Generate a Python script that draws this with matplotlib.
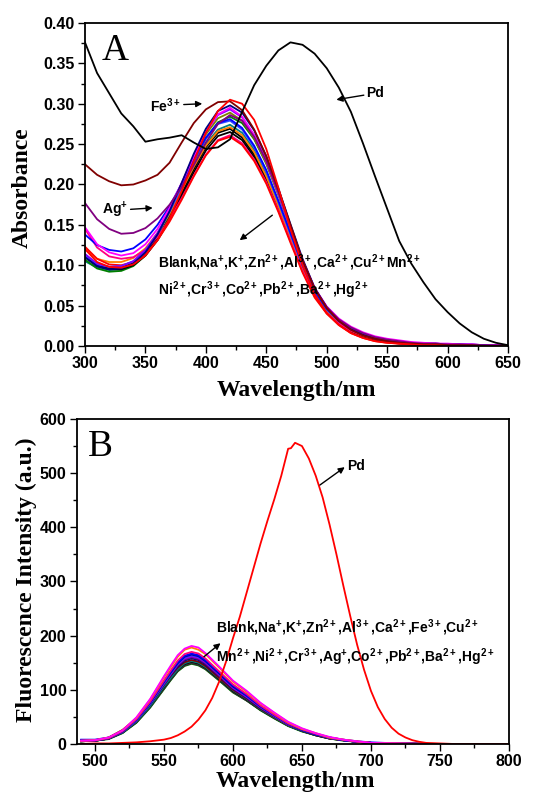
import matplotlib
matplotlib.use('Agg')
import matplotlib.pyplot as plt
from matplotlib.ticker import MultipleLocator, FormatStrFormatter

plt.rcParams['mathtext.fontset'] = 'custom'
plt.rcParams['mathtext.rm'] = 'Liberation Sans:bold'
plt.rcParams['mathtext.it'] = 'Liberation Sans:bold'
plt.rcParams['mathtext.bf'] = 'Liberation Sans:bold'

# ---------------- (A) absorption spectra ----------------
wl_abs = [300, 310, 320, 330, 340, 350, 360, 370, 380, 390, 400, 410, 420, 430, 440, 450, 460, 470,
          480, 490, 500, 510, 520, 530, 540, 550, 560, 570, 580, 590, 600, 610, 620, 630, 640, 650]

abs_pd = [0.376, 0.338, 0.313, 0.288, 0.272, 0.253, 0.256, 0.258, 0.261, 0.252, 0.244, 0.246, 0.256, 0.290,
          0.323, 0.347, 0.366, 0.376, 0.373, 0.362, 0.344, 0.320, 0.290, 0.251, 0.210, 0.170, 0.130, 0.102,
          0.079, 0.058, 0.042, 0.028, 0.017, 0.009, 0.004, 0.001]
abs_fe = [0.225, 0.212, 0.204, 0.199, 0.200, 0.205, 0.212, 0.227, 0.252, 0.276, 0.293, 0.302, 0.303, 0.292,
          0.268, 0.235, 0.194, 0.150, 0.106, 0.071, 0.047, 0.031, 0.020, 0.013, 0.009, 0.006, 0.004, 0.003,
          0.002, 0.002, 0.001, 0.001, 0.001, 0.000, 0.000, 0.000]
abs_ag = [0.177, 0.157, 0.145, 0.139, 0.140, 0.146, 0.158, 0.175, 0.197, 0.224, 0.252, 0.275, 0.286, 0.279,
          0.259, 0.229, 0.190, 0.148, 0.106, 0.071, 0.048, 0.033, 0.023, 0.016, 0.011, 0.008, 0.006, 0.004,
          0.003, 0.003, 0.002, 0.002, 0.001, 0.001, 0.001, 0.001]
abs_blank = [0.113, 0.101, 0.097, 0.097, 0.102, 0.114, 0.133, 0.158, 0.188, 0.219, 0.246, 0.264, 0.269, 0.258,
             0.237, 0.208, 0.171, 0.132, 0.094, 0.063, 0.042, 0.028, 0.018, 0.012, 0.008, 0.005, 0.004, 0.003,
             0.002, 0.002, 0.001, 0.001, 0.001, 0.000, 0.000, 0.000]
abs_na = [0.123, 0.108, 0.101, 0.100, 0.104, 0.114, 0.131, 0.154, 0.181, 0.210, 0.236, 0.254, 0.259, 0.249,
          0.229, 0.201, 0.166, 0.128, 0.091, 0.060, 0.040, 0.026, 0.016, 0.010, 0.006, 0.004, 0.003, 0.002,
          0.001, 0.001, 0.001, 0.000, 0.000, 0.000, 0.000, 0.000]
abs_k = [0.138, 0.125, 0.119, 0.117, 0.121, 0.132, 0.150, 0.173, 0.201, 0.231, 0.258, 0.276, 0.281, 0.270,
         0.248, 0.218, 0.180, 0.140, 0.100, 0.068, 0.046, 0.031, 0.021, 0.014, 0.010, 0.007, 0.005, 0.004,
         0.003, 0.003, 0.002, 0.002, 0.002, 0.001, 0.001, 0.001]
abs_zn = [0.147, 0.126, 0.116, 0.112, 0.115, 0.126, 0.145, 0.171, 0.202, 0.235, 0.265, 0.287, 0.295, 0.284,
          0.261, 0.229, 0.189, 0.147, 0.106, 0.072, 0.049, 0.034, 0.024, 0.017, 0.012, 0.009, 0.007, 0.005,
          0.004, 0.003, 0.003, 0.002, 0.002, 0.001, 0.001, 0.001]
abs_al = [0.112, 0.100, 0.096, 0.097, 0.103, 0.117, 0.138, 0.166, 0.199, 0.233, 0.262, 0.282, 0.289, 0.279,
          0.257, 0.226, 0.187, 0.145, 0.103, 0.069, 0.046, 0.030, 0.020, 0.013, 0.009, 0.006, 0.004, 0.003,
          0.002, 0.002, 0.001, 0.001, 0.001, 0.000, 0.000, 0.000]
abs_ca = [0.110, 0.099, 0.095, 0.096, 0.102, 0.116, 0.138, 0.167, 0.202, 0.238, 0.269, 0.291, 0.298, 0.289,
          0.267, 0.235, 0.195, 0.151, 0.108, 0.072, 0.048, 0.032, 0.021, 0.014, 0.009, 0.006, 0.004, 0.003,
          0.002, 0.002, 0.001, 0.001, 0.001, 0.001, 0.000, 0.000]
abs_cu = [0.114, 0.102, 0.098, 0.099, 0.105, 0.119, 0.140, 0.168, 0.201, 0.235, 0.265, 0.286, 0.293, 0.283,
          0.261, 0.230, 0.191, 0.148, 0.106, 0.071, 0.048, 0.033, 0.023, 0.016, 0.011, 0.008, 0.006, 0.004,
          0.003, 0.003, 0.002, 0.002, 0.001, 0.001, 0.001, 0.001]
abs_mn = [0.105, 0.097, 0.094, 0.095, 0.101, 0.114, 0.134, 0.160, 0.191, 0.222, 0.250, 0.268, 0.274, 0.264,
          0.243, 0.213, 0.176, 0.136, 0.097, 0.065, 0.043, 0.029, 0.019, 0.012, 0.008, 0.005, 0.004, 0.003,
          0.002, 0.001, 0.001, 0.001, 0.000, 0.000, 0.000, 0.000]
abs_ni = [0.120, 0.108, 0.104, 0.104, 0.109, 0.121, 0.140, 0.164, 0.193, 0.222, 0.248, 0.266, 0.271, 0.261,
          0.240, 0.210, 0.173, 0.134, 0.095, 0.064, 0.043, 0.029, 0.019, 0.013, 0.009, 0.006, 0.004, 0.003,
          0.002, 0.002, 0.001, 0.001, 0.001, 0.000, 0.000, 0.000]
abs_cr = [0.107, 0.096, 0.092, 0.093, 0.099, 0.112, 0.133, 0.161, 0.194, 0.228, 0.257, 0.277, 0.284, 0.276,
          0.256, 0.226, 0.188, 0.146, 0.104, 0.070, 0.046, 0.031, 0.020, 0.013, 0.009, 0.006, 0.004, 0.003,
          0.002, 0.002, 0.001, 0.001, 0.001, 0.000, 0.000, 0.000]
abs_co = [0.112, 0.101, 0.098, 0.099, 0.105, 0.118, 0.139, 0.166, 0.197, 0.229, 0.257, 0.275, 0.279, 0.268,
          0.246, 0.216, 0.178, 0.138, 0.099, 0.067, 0.045, 0.031, 0.021, 0.014, 0.010, 0.007, 0.005, 0.004,
          0.003, 0.002, 0.002, 0.002, 0.001, 0.001, 0.001, 0.001]
abs_pb = [0.145, 0.122, 0.111, 0.108, 0.110, 0.119, 0.135, 0.157, 0.183, 0.211, 0.237, 0.255, 0.261, 0.251,
          0.231, 0.203, 0.168, 0.130, 0.093, 0.062, 0.041, 0.028, 0.019, 0.013, 0.009, 0.007, 0.005, 0.004,
          0.003, 0.003, 0.002, 0.002, 0.002, 0.001, 0.001, 0.001]
abs_ba = [0.110, 0.099, 0.095, 0.095, 0.100, 0.112, 0.131, 0.156, 0.185, 0.215, 0.242, 0.260, 0.265, 0.255,
          0.234, 0.205, 0.169, 0.131, 0.093, 0.062, 0.041, 0.027, 0.017, 0.011, 0.007, 0.005, 0.003, 0.002,
          0.002, 0.001, 0.001, 0.001, 0.000, 0.000, 0.000, 0.000]
abs_hg = [0.120, 0.104, 0.098, 0.097, 0.101, 0.112, 0.131, 0.158, 0.192, 0.229, 0.264, 0.291, 0.305, 0.300,
          0.280, 0.244, 0.196, 0.145, 0.100, 0.064, 0.041, 0.026, 0.016, 0.010, 0.006, 0.004, 0.003, 0.002,
          0.001, 0.001, 0.000, 0.000, 0.000, 0.000, 0.000, 0.000]

abs_series = [
    (abs_mn, '#008080'), (abs_cr, '#008000'), (abs_al, '#808000'), (abs_blank, '#000000'),
    (abs_ba, '#000000'), (abs_ni, '#FF8000'), (abs_pb, '#FF0080'), (abs_na, '#FF0000'),
    (abs_co, '#3050FF'), (abs_k, '#0000FF'), (abs_cu, '#8000FF'), (abs_zn, '#FF00FF'),
    (abs_ca, '#000080'), (abs_ag, '#800080'), (abs_fe, '#800000'), (abs_hg, '#FF0000'),
    (abs_pd, '#000000'),
]

# ---------------- (B) fluorescence spectra ----------------
wl_fl = [490, 500, 510, 520, 530, 540, 550, 555, 560, 565, 570, 575, 580, 590, 600, 610, 620, 630,
         640, 650, 660, 670, 680, 690, 700, 720, 740, 760, 780, 800]

fl_blank = [5, 6, 10, 21, 41, 70, 105, 122, 138, 148, 152, 149, 141, 120, 98, 82, 64, 49, 34, 24, 17, 11, 7, 4, 2, 1, 0, 0, 0, 0]
fl_na = [5, 6, 9, 20, 39, 67, 101, 118, 134, 144, 148, 145, 138, 117, 95, 80, 62, 47, 33, 23, 16, 10, 6, 4, 2, 1, 0, 0, 0, 0]
fl_k = [5, 6, 10, 21, 40, 69, 103, 120, 136, 146, 150, 147, 140, 119, 97, 81, 63, 48, 34, 24, 16, 10, 7, 4, 2, 1, 0, 0, 0, 0]
fl_zn = [6, 6, 10, 22, 43, 73, 109, 127, 143, 154, 158, 155, 147, 125, 102, 85, 66, 51, 36, 25, 17, 11, 7, 4, 2, 1, 0, 0, 0, 0]
fl_al = [5, 6, 12, 26, 47, 77, 110, 126, 141, 151, 155, 152, 144, 122, 100, 84, 65, 50, 35, 25, 17, 11, 7, 4, 2, 1, 0, 0, 0, 0]
fl_ca = [5, 6, 10, 21, 41, 70, 106, 122, 138, 149, 153, 150, 142, 121, 99, 83, 64, 49, 34, 24, 17, 11, 7, 4, 2, 1, 0, 0, 0, 0]
fl_fe = [6, 6, 10, 22, 43, 74, 110, 128, 145, 156, 160, 157, 149, 126, 103, 86, 67, 51, 36, 26, 18, 11, 7, 4, 2, 1, 0, 0, 0, 0]
fl_cu = [6, 7, 11, 23, 44, 75, 112, 130, 147, 158, 162, 159, 151, 128, 104, 87, 68, 52, 36, 26, 18, 11, 7, 4, 2, 1, 0, 0, 0, 0]
fl_mn = [8, 8, 12, 24, 45, 77, 115, 134, 151, 163, 167, 164, 155, 132, 108, 90, 70, 53, 38, 27, 18, 12, 8, 5, 3, 1, 0, 0, 0, 0]
fl_ni = [7, 7, 11, 23, 45, 76, 114, 132, 149, 161, 165, 162, 153, 130, 106, 89, 69, 53, 37, 26, 18, 12, 7, 4, 2, 1, 0, 0, 0, 0]
fl_cr = [6, 7, 11, 24, 46, 78, 117, 136, 154, 166, 170, 167, 158, 134, 110, 92, 71, 54, 38, 27, 19, 12, 8, 4, 2, 1, 0, 0, 0, 0]
fl_ag = [6, 7, 12, 25, 48, 82, 123, 142, 161, 174, 178, 174, 166, 141, 115, 96, 75, 57, 40, 28, 20, 12, 8, 5, 2, 1, 0, 0, 0, 0]
fl_co = [6, 7, 12, 25, 49, 83, 125, 145, 164, 176, 181, 178, 168, 143, 117, 98, 76, 58, 41, 29, 20, 13, 8, 5, 2, 1, 0, 0, 0, 0]
fl_pb = [5, 6, 10, 21, 40, 69, 104, 120, 136, 146, 150, 147, 140, 119, 97, 81, 63, 48, 34, 24, 16, 10, 7, 4, 2, 1, 0, 0, 0, 0]
fl_ba = [5, 6, 10, 21, 40, 68, 102, 119, 135, 145, 149, 146, 139, 118, 96, 80, 63, 48, 34, 24, 16, 10, 7, 4, 2, 1, 0, 0, 0, 0]
fl_hg = [7, 7, 11, 23, 44, 75, 113, 131, 148, 160, 164, 161, 153, 130, 106, 89, 69, 52, 37, 26, 18, 12, 7, 4, 2, 1, 0, 0, 0, 0]

wl_fl_pd = [490, 500, 510, 520, 530, 540, 550, 555, 560, 565, 570, 575, 580, 585, 590, 595, 600, 605, 610,
            615, 620, 625, 630, 635, 640, 642, 645, 650, 655, 660, 665, 670, 675, 680, 685, 690, 695, 700,
            705, 710, 715, 720, 725, 730, 735, 740, 750, 760, 780, 800]
fl_pd = [0, 1, 1, 2, 3, 5, 8, 11, 16, 23, 32, 45, 62, 85, 115, 152, 195, 235, 280, 325, 370, 412, 452, 495,
         545, 546, 556, 550, 527, 495, 455, 405, 350, 292, 236, 183, 137, 98, 68, 46, 30, 19, 12, 7, 4, 2,
         1, 0, 0, 0]

fl_series = [
    (fl_na, '#008000'), (fl_k, '#808000'), (fl_pb, '#000000'), (fl_ba, '#303030'),
    (fl_blank, '#000000'), (fl_ca, '#008080'), (fl_al, '#800000'), (fl_zn, '#000080'),
    (fl_fe, '#800080'), (fl_cu, '#8000FF'), (fl_hg, '#3050FF'), (fl_ni, '#0000A0'),
    (fl_mn, '#0000FF'), (fl_cr, '#FF0080'), (fl_ag, '#FF8000'), (fl_co, '#FF00FF'),
]

tick_font = {'family': 'Liberation Sans', 'weight': 'bold', 'size': 11.5}
label_font = {'family': 'Liberation Serif', 'weight': 'bold', 'size': 17}
note_font = {'family': 'Liberation Sans', 'weight': 'bold', 'size': 10}
arrow = dict(arrowstyle='-|>', color='black', lw=1.0, mutation_scale=9, shrinkA=0, shrinkB=0)


def style_axes(ax):
    for s in ax.spines.values():
        s.set_linewidth(1.3)
    ax.tick_params(which='both', direction='out', top=False, right=False, width=1.0, pad=2.5)
    ax.tick_params(which='major', length=5)
    ax.tick_params(which='minor', length=3)
    for lab in ax.get_xticklabels() + ax.get_yticklabels():
        lab.set_fontproperties(tick_font)


fig = plt.figure(figsize=(5.41, 7.98), dpi=100)

# panel A
ax1 = fig.add_axes([0.1571, 0.5664, 0.7819, 0.4048])
for ys, c in abs_series:
    ax1.plot(wl_abs, ys, color=c, lw=1.3)
ax1.set_xlim(300, 650)
ax1.set_ylim(0, 0.40)
ax1.xaxis.set_major_locator(MultipleLocator(50))
ax1.xaxis.set_minor_locator(MultipleLocator(25))
ax1.yaxis.set_major_locator(MultipleLocator(0.05))
ax1.yaxis.set_minor_locator(MultipleLocator(0.025))
ax1.yaxis.set_major_formatter(FormatStrFormatter('%.2f'))
style_axes(ax1)
ax1.set_xlabel('Wavelength/nm', fontdict=label_font, va='top')
ax1.xaxis.set_label_coords(0.5, -0.105)
ax1.set_ylabel('Absorbance', fontdict=label_font)
ax1.yaxis.set_label_coords(-0.123, 0.49)
ax1.text(0.04, 0.885, 'A', transform=ax1.transAxes, family='Liberation Serif', size=27)

ax1.annotate('Pd', xy=(508, 0.305), xytext=(533, 0.313), fontproperties=note_font,
             va='center', ha='left', arrowprops=arrow)
ax1.annotate('Fe$^{3+}$', xy=(397, 0.300), xytext=(354, 0.298), fontproperties=note_font,
             va='center', ha='left', arrowprops=arrow)
ax1.annotate('Ag$^{+}$', xy=(356, 0.171), xytext=(314, 0.168), fontproperties=note_font,
             va='center', ha='left', arrowprops=arrow)
ax1.annotate('', xy=(428, 0.131), xytext=(455, 0.162), arrowprops=arrow)
ax1.text(360, 0.103, 'Blank,Na$^{+}$,K$^{+}$,Zn$^{2+}$,Al$^{3+}$,Ca$^{2+}$,Cu$^{2+}$Mn$^{2+}$',
         fontproperties=note_font, va='center', ha='left')
ax1.text(360, 0.069, 'Ni$^{2+}$,Cr$^{3+}$,Co$^{2+}$,Pb$^{2+}$,Ba$^{2+}$,Hg$^{2+}$',
         fontproperties=note_font, va='center', ha='left')

# panel B
ax2 = fig.add_axes([0.1423, 0.0677, 0.7985, 0.4073])
for ys, c in fl_series:
    ax2.plot(wl_fl, ys, color=c, lw=1.3)
ax2.plot(wl_fl_pd, fl_pd, color='#FF0000', lw=1.3)
ax2.set_xlim(487, 800)
ax2.set_ylim(0, 600)
ax2.xaxis.set_major_locator(MultipleLocator(50))
ax2.xaxis.set_minor_locator(MultipleLocator(25))
ax2.yaxis.set_major_locator(MultipleLocator(100))
ax2.yaxis.set_minor_locator(MultipleLocator(50))
style_axes(ax2)
ax2.set_xlabel('Wavelength/nm', fontdict=label_font, va='top')
ax2.xaxis.set_label_coords(0.505, -0.082)
ax2.set_ylabel('Fluorescence Intensity (a.u.)', fontdict=label_font)
ax2.yaxis.set_label_coords(-0.093, 0.505)
ax2.text(0.025, 0.885, 'B', transform=ax2.transAxes, family='Liberation Serif', size=27)

ax2.annotate('', xy=(681, 511), xytext=(663, 478), arrowprops=arrow)
ax2.text(683, 513, 'Pd', fontproperties=note_font, va='center', ha='left')
ax2.annotate('', xy=(591, 186), xytext=(579, 161), arrowprops=arrow)
ax2.text(588, 214, 'Blank,Na$^{+}$,K$^{+}$,Zn$^{2+}$,Al$^{3+}$,Ca$^{2+}$,Fe$^{3+}$,Cu$^{2+}$',
         fontproperties=note_font, va='center', ha='left')
ax2.text(588, 160, 'Mn$^{2+}$,Ni$^{2+}$,Cr$^{3+}$,Ag$^{+}$,Co$^{2+}$,Pb$^{2+}$,Ba$^{2+}$,Hg$^{2+}$',
         fontproperties=note_font, va='center', ha='left')

fig.savefig('out.png', dpi=100)
